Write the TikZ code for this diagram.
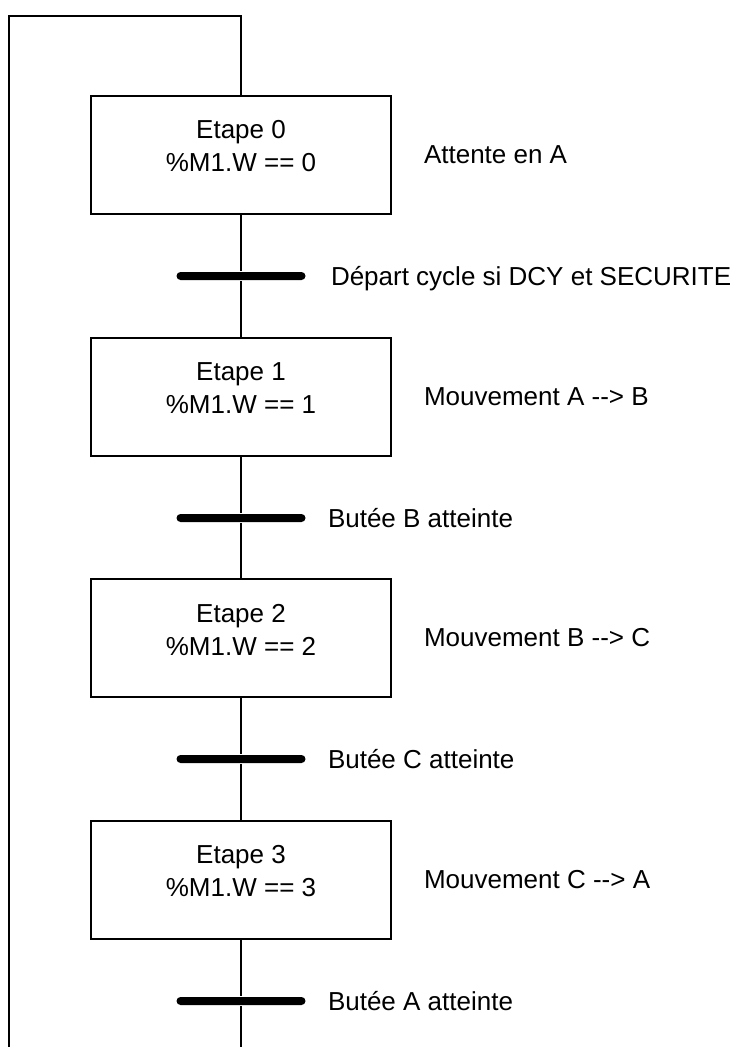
\documentclass[tikz,border=0pt]{standalone}
\usepackage{fontspec}
\setmainfont{Liberation Sans}[Ligatures=TeXOff]
\usetikzlibrary{positioning}

\begin{document}
\begin{tikzpicture}[x=1pt, y=-1pt, line width=2pt,
  every node/.style={font=\fontsize{26}{33}\selectfont, inner sep=0pt},
  etape/.style={draw, minimum width=300pt, minimum height=118pt},
  barre/.style={fill=black, rounded corners=4pt, minimum width=129pt, minimum height=8pt}]
  \useasboundingbox (0,0) rectangle (746,1047);
  % Etape 0
  \node[etape] (e0) at (241,154.5) {};
  \node[align=center, yshift=8pt] (te0) at (e0) {Etape 0\\\%M1.W == 0};
  \node[anchor=base west] (a0) at (423,163.5) {Attente en A};
  % Transition 0
  \node[barre] (t0) at (241,276) {};
  \node[anchor=base west] (r0) at (330,285) {Départ cycle si DCY et SECURITE};
  % Etape 1
  \node[etape] (e1) at (241,396.5) {};
  \node[align=center, yshift=8pt] (te1) at (e1) {Etape 1\\\%M1.W == 1};
  \node[anchor=base west] (a1) at (423,405.5) {Mouvement A --> B};
  % Transition 1
  \node[barre] (t1) at (241,518) {};
  \node[anchor=base west] (r1) at (327,527) {Butée B atteinte};
  % Etape 2
  \node[etape] (e2) at (241,637.5) {};
  \node[align=center, yshift=8pt] (te2) at (e2) {Etape 2\\\%M1.W == 2};
  \node[anchor=base west] (a2) at (423,646.5) {Mouvement B --> C};
  % Transition 2
  \node[barre] (t2) at (241,759) {};
  \node[anchor=base west] (r2) at (327,768) {Butée C atteinte};
  % Etape 3
  \node[etape] (e3) at (241,879.5) {};
  \node[align=center, yshift=8pt] (te3) at (e3) {Etape 3\\\%M1.W == 3};
  \node[anchor=base west] (a3) at (423,888.5) {Mouvement C --> A};
  % Transition 3
  \node[barre] (t3) at (241,1001) {};
  \node[anchor=base west] (r3) at (327,1010) {Butée A atteinte};
  % Liaisons
  \draw (e0) -- (t0) -- (e1);
  \draw (e1) -- (t1) -- (e2);
  \draw (e2) -- (t2) -- (e3);
  \draw (e3) -- (t3);
  % Retour vers l'etape 0
  \coordinate (bas) at (241,1047);
  \coordinate (basg) at (9,1047);
  \coordinate (hautg) at (9,16);
  \coordinate (hautd) at (241,16);
  \draw (t3) -- (bas);
  \draw (basg) -- (hautg) -- (hautd) -- (e0);
\end{tikzpicture}
\end{document}
